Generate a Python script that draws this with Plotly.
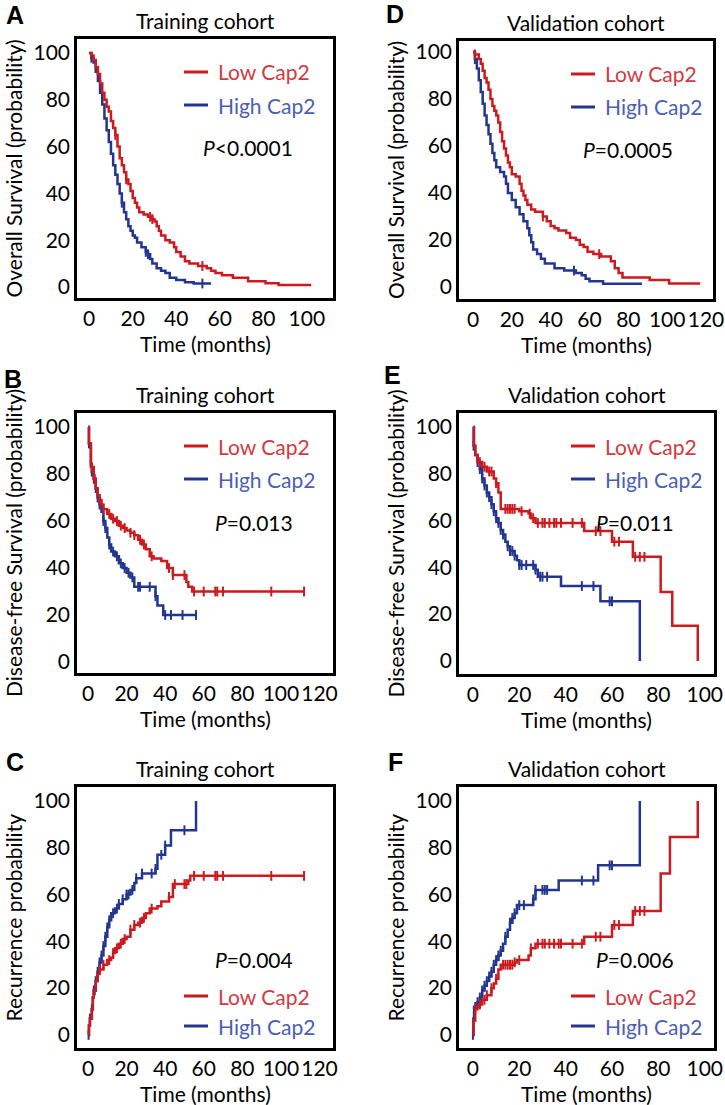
import plotly.graph_objects as go

# ---------------- data ----------------
# Panel A: Overall survival, training cohort
A_low_t = [0,1,2,3,4,5,6,7,8,9,10,11,12,13,14,15,16,17,18,19,20,21,22,23,25,27,29,30,31,32,33,35,37,39,40,42,44,46,50,54,56,58,61,66,73,81,87,102]
A_low_s = [100,99,97,94,91,87,83,80,77,75,71,68,65,60,55,52,49,46,44,41,38,36,34,32,31,30,29,28,26,24,22,20,19,17,15,13,11,10,9,8,7,6,5,4,2.5,1.6,0.9,0.9]
A_low_c = [12,17,28,29,52]
A_high_t = [0,1,2,3,4,5,6,7,8,9,10,11,12,13,14,15,16,17,18,19,20,21,22,24,26,27,28,29,31,33,35,37,40,44,48,56]
A_high_s = [100,98,96,92,88,83,78,72,67,62,57,52,48,44,40,36,32,29,26,24,22,21,19,17,15,14,12,10,8,7,6,4,3,2,1.5,1.5]
A_high_c = [1,15,26,27,52]

# Panel D: Overall survival, validation cohort
D_low_t = [0,1,3,4,5,6,7,8,9,10,11,12,13,14,15,16,17,18,19,20,22,24,25,26,27,28,30,32,36,38,40,42,44,48,50,53,55,57,59,62,66,71,73,75,77,91,101,117]
D_low_s = [100,99,97,95,92,89,87,84,80,77,75,73,70,66,62,59,56,53,51,48,47,44,41,39,37,35,33,32,30,28,26,25,24,23,21,20,18,17,15,14,13,11,8,6,4,3,1.5,1.5]
D_low_c = [1,36,65]
D_high_t = [0,1,2,3,4,5,6,7,8,9,10,11,12,14,16,17,18,20,22,24,26,28,29,30,31,33,35,37,42,47,53,56,58,60,67,87]
D_high_s = [100,97,93,88,83,78,73,69,65,61,57,54,51,49,47,44,40,37,34,31,28,25,22,19,16,14,12,10,8,7,6,5,3.5,2.5,1.4,1.4]
D_high_c = [1,52]

# Panel B: Disease-free survival, training cohort
B_low_t = [0,0.5,1.5,3,4,5,6,7,8,10,12,14,16,18,20,22,24,26,28,30,32,34,38,41,44,51,52,54,112]
B_low_s = [100,93,83,78,74,71,69,67,65,63,61,60,58,57,56,55,54,52,50,48,45,44,43,40,37,34,32,30,30]
B_low_c = [2,3.5,6,8,11,13,15,17,19,22,24,27,29,33,42,44,50,55,60,66,67,70,95,112]
B_high_t = [0,0.5,1.5,2,3,4,5,6,7,8,9,10,11,12,14,16,18,20,22,24,35,36,39,56.5]
B_high_s = [100,93,84,81,78,74,70,67,64,60,57,53,50,47,45,42,40,38,36,32,28,24,20,20]
B_high_c = [0.5,2,3,4,5,6,8,9,11,13,15,17,19,21,23,26,27,32,35,40,43,49,56]

# Panel E: Disease-free survival, validation cohort
E_low_t = [0,0.5,1,2,4,6,9,10,11,12,20,24,25,27,48,60,69,81,86,97]
E_low_s = [100,92,88,85,83,81,78,76,72,65,64,63,61,59,55.5,51,44.5,29.5,15,0]
E_low_c = [3,5,7,8,10,14,15,16,17,18,21,24.5,26,28,30,31,33,35,36,38,43,47,53,55,61,63,70,72,74]
E_high_t = [0,0.3,1,2,3,4,5,6,7,8,9,10,11,12,13,14,15,16,18,19,20,27,28,38,55,72]
E_high_s = [100,92,88,85,82,78,75,72,70,67,64,61,59,56,54,51,49,47,45,43,41,39,36,32,25.5,0]
E_high_c = [0.3,2,3,4,5,6,7,8,9,10,11,12,13,15,16,17,18,20,21,23,26,27,29,30,32,47,52,59,60]

# Panel C: Recurrence, training cohort
C_low_t = [0,0.5,1,2,2.5,3,4,5,6,8,10,12,13,14,16,18,20,22,24,26,28,30,32,36,38,42,44,52,53,112]
C_low_s = [0,4,7,11,16,19,23,26,28,30,32,33,35,37,39,41,42,45,47,48,50,52,54,55,57,59,64.5,66,68,68]
C_low_c = [6,8,11,13,15,17,19,22,24,27,29,33,42,45,50,51,55,60,66,67,70,95,112]
C_high_t = [0,0.5,1,2,2.5,3,4,5,6,7,8,9,10,11,12,14,16,18,20,22,24,25,28,35,36,40,43,56]
C_high_s = [0,4,7,11,16,19,23,27,31,34,38,42,46,49,52,54,56,58,60,62,65,67,69,71,77,81,87.5,100]
C_high_c = [0.3,1,2,3,3.5,4,5,6,7,8,9,10,11,13,15,16,18,20,21,23,25,28,33,35,38,40,50]

# Panel F: Recurrence, validation cohort
F_low_t = [0,0.3,1,2,3,4,6,8,9,10,11,12,18,19,24,25,27,48,60,69,81,85,97]
F_low_s = [0,6,11,12,13,15,17,20,22,24,28,30,31,32,34,37,39,42,47,53,69,84.6,100]
F_low_c = [1,3,5,6,8,10,13,14,15,16,17,18,20,25,28,30,31,33,35,37,38,43,47,53,55,61,63,70,72,74]
F_high_t = [0,0.2,0.5,2,3,4,5,6,7,8,9,10,11,12,13,14,15,16,17,18,19,26,27,37,54,72]
F_high_s = [0,7,12,14,16,19,21,23,25,27,30,32,34,36,39,42,45,48,50,52,55.5,58,62,66,72.5,100]
F_high_c = [0,1,2,3,4,5,6,7,8,9,10,11,12,14,16,17,18,20,22,26,27,30,31,32,47,52,59,60]

titles = ["Training cohort", "Validation cohort"]
letters = ["A", "D", "B", "E", "C", "F"]
ytitles = ["Overall Survival (probability)", "Disease-free Survival (probability)", "Recurrence probability"]
pvals = ["<i>P</i><0.0001", "<i>P</i>=0.0005", "<i>P</i>=0.013", "<i>P</i>=0.011", "<i>P</i>=0.004", "<i>P</i>=0.006"]
legend_names = ["Low Cap2", "High Cap2"]
y_ticks = [0, 20, 40, 60, 80, 100]
x_tick_sets = [[0,20,40,60,80,100], [0,20,40,60,80,100,120], [0,20,40,60,80,100,120],
               [0,20,40,60,80,100], [0,20,40,60,80,100,120], [0,20,40,60,80,100]]

# ---------------- styling ----------------
W, H = 725, 1105
FONT = "Lato"
FS = 21
RED, BLUE = "#CC1A1E", "#22368F"
RED_TXT, BLUE_TXT = "#D23A3F", "#4A60B5"

def px(x):
    return x / W

def py(y):
    return 1 - y / H

# panel boxes in pixels: (left, right, top, bottom)
boxes = [(77, 333, 39, 298), (459, 713, 41, 299),
         (77, 333, 413, 673), (459, 714, 413, 674),
         (77, 333, 787, 1048), (459, 714, 787, 1048)]
letter_pos = [(4, 15), (384, 14), (2, 379), (382, 375), (4, 762), (386, 762)]
xranges = [[-5.6, 112], [-7.2, 123.6], [-5.7, 127], [-6, 104], [-5.7, 127], [-6, 104]]
yranges = [[-4.7, 106], [-5.1, 104.7], [-4.7, 106], [-5.6, 106], [-5.6, 106], [-5.6, 106]]

panels = [
    (A_low_t, A_low_s, A_low_c, A_high_t, A_high_s, A_high_c),
    (D_low_t, D_low_s, D_low_c, D_high_t, D_high_s, D_high_c),
    (B_low_t, B_low_s, B_low_c, B_high_t, B_high_s, B_high_c),
    (E_low_t, E_low_s, E_low_c, E_high_t, E_high_s, E_high_c),
    (C_low_t, C_low_s, C_low_c, C_high_t, C_high_s, C_high_c),
    (F_low_t, F_low_s, F_low_c, F_high_t, F_high_s, F_high_c),
]

def step_value(ts, ss, t):
    v = ss[0]
    for ti, si in zip(ts, ss):
        if ti <= t:
            v = si
        else:
            break
    return v

fig = go.Figure()
layout = dict(width=W, height=H, margin=dict(l=0, r=0, t=0, b=0, pad=0, autoexpand=False),
              template="none",
              paper_bgcolor="white", plot_bgcolor="white", showlegend=False,
              font=dict(family=FONT, size=FS, color="black"))
annotations = []
shapes = []

for i, (lt, ls, lc, ht, hs, hc) in enumerate(panels):
    n = i + 1
    xa = "x" if n == 1 else f"x{n}"
    ya = "y" if n == 1 else f"y{n}"
    l, r, t, b = boxes[i]
    common = dict(showline=True, linewidth=2.5, linecolor="black", mirror=True,
                  showgrid=False, zeroline=False, ticks="", automargin=False,
                  tickfont=dict(family=FONT, size=FS, color="black"))
    layout["xaxis" if n == 1 else f"xaxis{n}"] = dict(
        domain=[px(l), px(r)], range=xranges[i], tickvals=x_tick_sets[i],
        anchor=ya, ticklabelstandoff=0, **common)
    layout["yaxis" if n == 1 else f"yaxis{n}"] = dict(
        domain=[py(b), py(t)], range=yranges[i], tickvals=y_ticks,
        anchor=xa, ticklabelstandoff=0, **common)

    for tt, ss, cc, col in ((ht, hs, hc, BLUE), (lt, ls, lc, RED)):
        fig.add_trace(go.Scatter(x=tt, y=ss, mode="lines", line=dict(color=col, width=2.5, shape="hv"),
                                 xaxis=xa, yaxis=ya, hoverinfo="skip"))
        fig.add_trace(go.Scatter(x=cc, y=[step_value(tt, ss, c) for c in cc], mode="markers",
                                 marker=dict(symbol="line-ns", size=7, line=dict(color=col, width=2)),
                                 xaxis=xa, yaxis=ya, hoverinfo="skip"))

    cx = (l + r) / 2
    col_i = i % 2
    row_i = i // 2
    # title
    annotations.append(dict(x=px(cx), y=py(t - 19), xref="paper", yref="paper", text=titles[col_i],
                            showarrow=False, xanchor="center", yanchor="middle", font=dict(size=FS)))
    # panel letter
    lx, lyc = letter_pos[i]
    annotations.append(dict(x=px(lx), y=py(lyc), xref="paper", yref="paper",
                            text=f"<b>{letters[i]}</b>", showarrow=False, xanchor="left", yanchor="middle",
                            font=dict(family="Liberation Sans", size=25)))
    # x title
    annotations.append(dict(x=px(cx), y=py(b + 45), xref="paper", yref="paper", text="Time (months)",
                            showarrow=False, xanchor="center", yanchor="middle", font=dict(size=FS)))
    # y title
    annotations.append(dict(x=px(l - 64), y=py((t + b) / 2), xref="paper", yref="paper", text=ytitles[row_i],
                            showarrow=False, textangle=-90, xanchor="center", yanchor="middle",
                            font=dict(size=FS)))

    # legend + p-value positions
    lx0 = l + 107 if col_i == 0 else l + 112
    if row_i < 2:
        ly1, ly2, pyc = t + 33, t + 66, t + 109
    else:
        ly1, ly2, pyc = t + 209, t + 239, t + 172
    for yy, name, colline, coltxt in ((ly1, legend_names[0], RED, RED_TXT), (ly2, legend_names[1], BLUE, BLUE_TXT)):
        shapes.append(dict(type="line", xref="paper", yref="paper", x0=px(lx0), x1=px(lx0 + 24),
                           y0=py(yy), y1=py(yy), line=dict(color=colline, width=3)))
        annotations.append(dict(x=px(lx0 + 32), y=py(yy), xref="paper", yref="paper", text=name,
                                showarrow=False, xanchor="left", yanchor="middle",
                                font=dict(size=FS, color=coltxt)))
    annotations.append(dict(x=px(r - 38), y=py(pyc), xref="paper", yref="paper", text=pvals[i],
                            showarrow=False, xanchor="right", yanchor="middle", font=dict(size=FS)))

layout["annotations"] = annotations
layout["shapes"] = shapes
fig.update_layout(**layout)
fig.write_html("out.html", config={"displayModeBar": False},
               post_script="document.body.style.margin='0';")
